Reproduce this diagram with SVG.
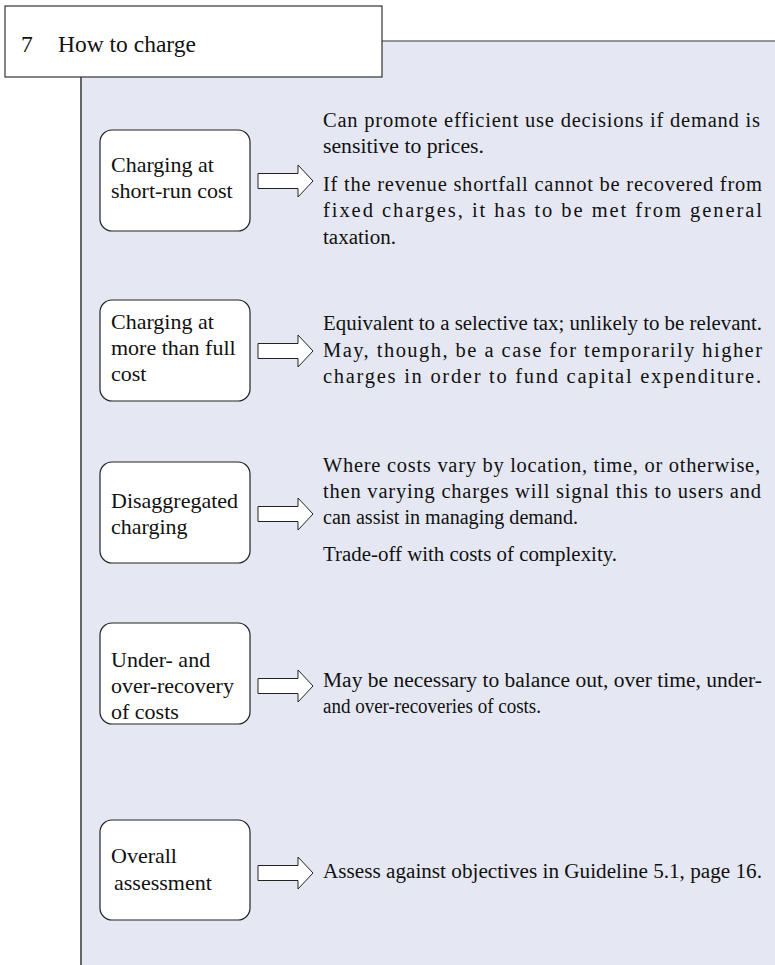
<svg xmlns="http://www.w3.org/2000/svg" width="775" height="965" viewBox="0 0 775 965">
<defs>
<style>
.panel{fill:#E5E8F2;}
.edge{stroke:#333;stroke-width:1.2;fill:none;}
.ledge{stroke:#666;stroke-width:2;fill:none;}
.box{fill:#fff;stroke:#222;stroke-width:1.2;}
.arr{fill:#fff;stroke:#222;stroke-width:1;stroke-linejoin:miter;}
.lbl{font-family:"Liberation Serif","DejaVu Serif",serif;font-size:22px;fill:#111;}
.txt{font-family:"Liberation Serif","DejaVu Serif",serif;font-size:20.5px;fill:#111;}
.ttl{font-family:"Liberation Serif","DejaVu Serif",serif;font-size:23.5px;fill:#111;}
</style>
<polygon id="arrow" class="arr" points="0,-7.5 40,-7.5 40,-16 55,0 40,16 40,7.5 0,7.5"/>
</defs>
<rect x="0" y="0" width="775" height="965" fill="#fff"/>
<rect class="panel" x="81" y="41" width="694" height="924"/>
<line class="edge" x1="382" y1="41" x2="775" y2="41"/>
<line class="ledge" x1="81" y1="77" x2="81" y2="965"/>
<g id="title">
<rect x="5" y="6" width="377" height="71" fill="#fff" stroke="#333" stroke-width="1.2"/>
<text class="ttl" x="21" y="52">7</text>
<text class="ttl" x="58" y="52">How to charge</text>
</g>
<g id="node1">
<rect class="box" x="100" y="130" width="150" height="101" rx="12"/>
<text class="lbl" x="111" y="172">Charging at</text>
<text class="lbl" x="111" y="198">short-run cost</text>
</g>
<g id="node2">
<rect class="box" x="100" y="300" width="150" height="101" rx="12"/>
<text class="lbl" x="111" y="329">Charging at</text>
<text class="lbl" x="111" y="355">more than full</text>
<text class="lbl" x="111" y="381">cost</text>
</g>
<g id="node3">
<rect class="box" x="100" y="462" width="150" height="101" rx="12"/>
<text class="lbl" x="111" y="508">Disaggregated</text>
<text class="lbl" x="111" y="534">charging</text>
</g>
<g id="node4">
<rect class="box" x="100" y="623" width="150" height="101" rx="12"/>
<text class="lbl" x="111" y="667">Under- and</text>
<text class="lbl" x="111" y="693">over-recovery</text>
<text class="lbl" x="111" y="719">of costs</text>
</g>
<g id="node5">
<rect class="box" x="100" y="820" width="150" height="100" rx="12"/>
<text class="lbl" x="111" y="863">Overall</text>
<text class="lbl" x="114" y="890">assessment</text>
</g>
<g id="text1">
<text class="txt" x="323" y="127" textLength="437" lengthAdjust="spacing">Can promote efficient use decisions if demand is</text>
<text class="txt" x="323" y="153" textLength="161" lengthAdjust="spacingAndGlyphs">sensitive to prices.</text>
<text class="txt" x="323" y="191" textLength="439" lengthAdjust="spacing">If the revenue shortfall cannot be recovered from</text>
<text class="txt" x="323" y="217" textLength="439" lengthAdjust="spacing">fixed charges, it has to be met from general</text>
<text class="txt" x="323" y="244" textLength="73" lengthAdjust="spacingAndGlyphs">taxation.</text>
</g>
<g id="text2">
<text class="txt" x="323" y="330" textLength="439" lengthAdjust="spacingAndGlyphs">Equivalent to a selective tax; unlikely to be relevant.</text>
<text class="txt" x="323" y="357" textLength="439" lengthAdjust="spacing">May, though, be a case for temporarily higher</text>
<text class="txt" x="323" y="383" textLength="438" lengthAdjust="spacing">charges in order to fund capital expenditure.</text>
</g>
<g id="text3">
<text class="txt" x="323" y="472" textLength="437" lengthAdjust="spacing">Where costs vary by location, time, or otherwise,</text>
<text class="txt" x="323" y="498" textLength="438" lengthAdjust="spacing">then varying charges will signal this to users and</text>
<text class="txt" x="323" y="524" textLength="255" lengthAdjust="spacingAndGlyphs">can assist in managing demand.</text>
<text class="txt" x="323" y="561" textLength="294" lengthAdjust="spacingAndGlyphs">Trade-off with costs of complexity.</text>
</g>
<g id="text4">
<text class="txt" x="323" y="687" textLength="439" lengthAdjust="spacingAndGlyphs">May be necessary to balance out, over time, under-</text>
<text class="txt" x="323" y="713" textLength="218" lengthAdjust="spacingAndGlyphs">and over-recoveries of costs.</text>
</g>
<g id="text5">
<text class="txt" x="323" y="878" textLength="439" lengthAdjust="spacingAndGlyphs">Assess against objectives in Guideline 5.1, page 16.</text>
</g>
<g id="connectors">
<use href="#arrow" x="258" y="181"/>
<use href="#arrow" x="258" y="351"/>
<use href="#arrow" x="258" y="514"/>
<use href="#arrow" x="258" y="686"/>
<use href="#arrow" x="258" y="873"/>
</g>
</svg>
